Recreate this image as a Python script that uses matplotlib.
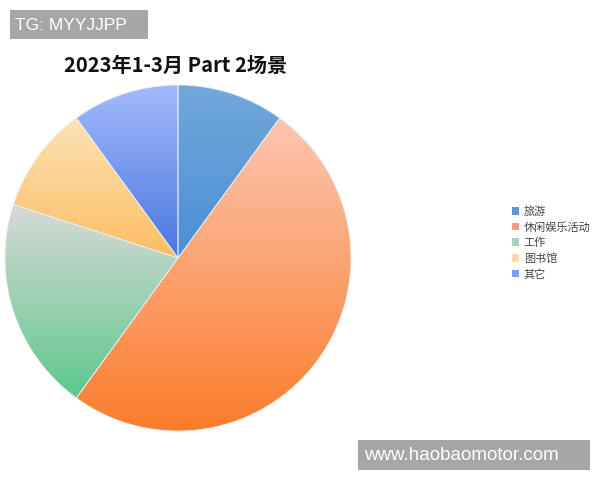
import numpy as np
import matplotlib
matplotlib.use("Agg")
import matplotlib.pyplot as plt
from matplotlib.colors import LinearSegmentedColormap
from matplotlib.patches import Patch, Rectangle

plt.rcParams['font.family'] = ['Noto Sans CJK SC', 'DejaVu Sans']

labels = ['旅游', '休闲娱乐活动', '工作', '图书馆', '其它']
sizes = [10, 50, 20, 10, 10]
top_colors = ['#72a8da', '#fcc6b2', '#d8d9d8', '#fde2b6', '#a3bafc']
bottom_colors = ['#4a8ed4', '#fb7b28', '#5cc88c', '#fdbd62', '#4876e0']
legend_colors = ['#5b9bd5', '#f4a07a', '#a9d1c0', '#fbd9a4', '#7b9ff0']

W, H = 600, 480
fig = plt.figure(figsize=(6, 4.8), dpi=100)

# pie: centre ~ (178, 258) px, radius ~173 px
ax = fig.add_axes([5 / W, 49 / H, 346 / W, 346 / H])
wedges, _ = ax.pie(sizes, startangle=90, counterclock=False, radius=1,
                   wedgeprops=dict(edgecolor='#ececec', linewidth=0.6))

grad = np.linspace(1, 0, 256).reshape(-1, 1)
for w, c0, c1 in zip(wedges, top_colors, bottom_colors):
    verts = w.get_path().vertices
    x0, y0 = verts.min(axis=0)
    x1, y1 = verts.max(axis=0)
    cmap = LinearSegmentedColormap.from_list('g', [c1, c0])
    im = ax.imshow(grad, cmap=cmap, extent=[x0, x1, y0, y1], aspect='auto',
                   origin='upper', zorder=1, interpolation='bicubic')
    im.set_clip_path(w)
    w.set_facecolor('none')
    w.set_zorder(2)

ax.set_xlim(-1, 1)
ax.set_ylim(-1, 1)
ax.set_aspect('equal')
ax.axis('off')

fig.text(176 / W, 1 - 65 / H, '2023年1-3月 Part 2场景', fontsize=14.5,
         fontweight='bold', ha='center', va='center', color='#111111')

handles = [Patch(facecolor=c, edgecolor='none') for c in legend_colors]
fig.legend(handles, labels, loc='upper left', bbox_to_anchor=(502 / W, 1 - 196 / H),
           frameon=False, fontsize=8, handlelength=0.65, handleheight=0.65,
           handletextpad=0.4, labelspacing=0.45, labelcolor='#444444')

# watermark boxes
fig.patches.append(Rectangle((10 / W, 1 - 39 / H), 138 / W, 29 / H,
                             transform=fig.transFigure, facecolor='#a6a6a6',
                             edgecolor='none'))
fig.text(15 / W, 1 - 25 / H, 'TG: MYYJJPP', fontsize=12.5, color='white',
         ha='left', va='center', family=['Liberation Sans'])
fig.patches.append(Rectangle((358 / W, 1 - 470 / H), 232 / W, 30 / H,
                             transform=fig.transFigure, facecolor='#a6a6a6',
                             edgecolor='none'))
fig.text(364 / W, 1 - 455 / H, 'www.haobaomotor.com', fontsize=13.5, color='white',
         ha='left', va='center', family=['Liberation Sans'])

fig.savefig('out.png', dpi=100, facecolor='white')
